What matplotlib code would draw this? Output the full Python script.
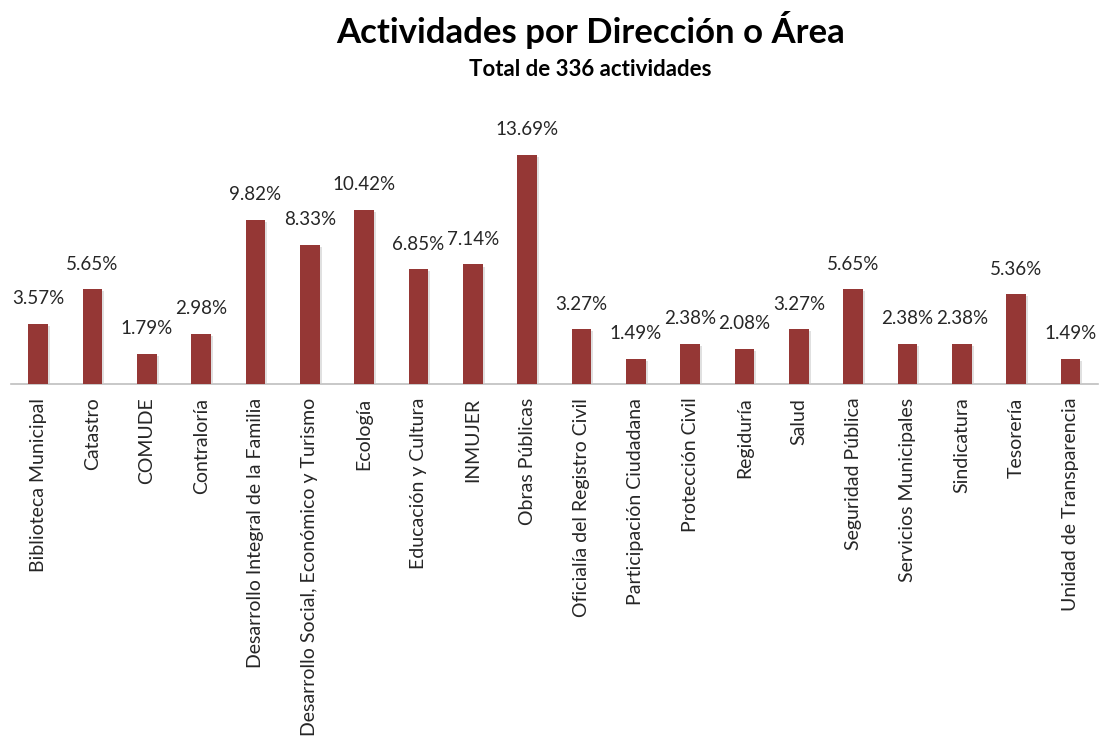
import matplotlib
matplotlib.use("Agg")
import matplotlib.pyplot as plt
import matplotlib.patheffects as pe

# Data
areas = [
    "Biblioteca Municipal", "Catastro", "COMUDE", "Contraloría",
    "Desarrollo Integral de la Familia",
    "Desarrollo Social, Económico y Turismo", "Ecología",
    "Educación y Cultura", "INMUJER", "Obras Públicas",
    "Oficialía del Registro Civil", "Participación Ciudadana",
    "Protección Civil", "Regiduría", "Salud", "Seguridad Pública",
    "Servicios Municipales", "Sindicatura", "Tesorería",
    "Unidad de Transparencia",
]
percentages = [3.57, 5.65, 1.79, 2.98, 9.82, 8.33, 10.42, 6.85, 7.14, 13.69,
               3.27, 1.49, 2.38, 2.08, 3.27, 5.65, 2.38, 2.38, 5.36, 1.49]

plt.rcParams['font.family'] = ['Lato', 'DejaVu Sans']

fig = plt.figure(figsize=(11.01, 7.41), dpi=100)
ax = fig.add_axes([0.01, 0.482, 0.987, 0.361])

x = list(range(len(areas)))
bars = ax.bar(x, percentages, width=0.36, color="#953735", zorder=3)
for b in bars:
    b.set_path_effects([pe.SimplePatchShadow(offset=(1.5, -1.5), shadow_rgbFace="#cccccc", alpha=0.6),
                        pe.Normal()])

for xi, v in zip(x, percentages):
    ax.annotate(f"{v:.2f}%", (xi, v), xytext=(0, 12), textcoords="offset points",
                ha="center", va="bottom", fontsize=13.5, color="#262626")

ax.set_xlim(-0.5, len(areas) - 0.5)
ax.set_ylim(0, 16)
ax.set_xticks(x)
ax.set_xticklabels(areas, rotation=90, fontsize=14, color="#262626")
ax.tick_params(axis="x", length=0, pad=10)
ax.set_yticks([])
for s in ["top", "right", "left"]:
    ax.spines[s].set_visible(False)
ax.spines["bottom"].set_color("#bfbfbf")
ax.spines["bottom"].set_linewidth(1.2)

fig.text(0.536, 0.959, "Actividades por Dirección o Área", ha="center", va="center",
         fontsize=25, fontweight="bold", color="black")
fig.text(0.536, 0.906, "Total de 336 actividades", ha="center", va="center",
         fontsize=16, fontweight="bold", color="black")

fig.savefig("out.png", dpi=100, facecolor="white")
